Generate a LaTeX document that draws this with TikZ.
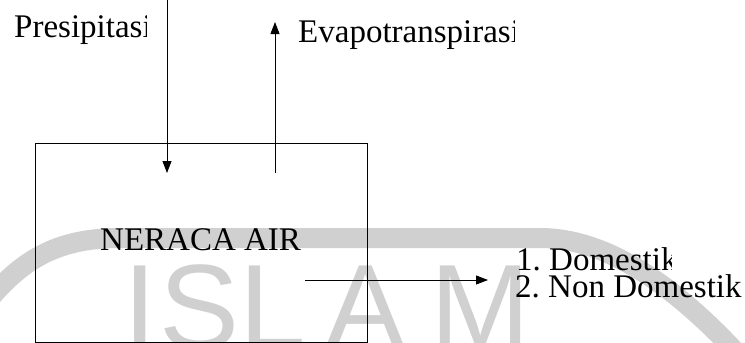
\documentclass[tikz,border=0pt]{standalone}
\usepackage{fontspec}
\setmainfont{Liberation Serif}
\newfontfamily\wmfont{Liberation Sans}
\usetikzlibrary{arrows.meta}
\definecolor{wm}{RGB}{208,208,208}
\frenchspacing
\begin{document}
\begin{tikzpicture}[x=1pt,y=-1pt,
  txt/.style={anchor=base west,inner sep=0pt,font=\fontsize{33}{33}\selectfont},
  wml/.style={anchor=base,inner sep=0pt,text=wm,font=\wmfont\fontsize{120}{120}\selectfont},
  arr/.style={line width=0.9pt,-{Triangle[length=12pt,width=9pt]}},
  boxst/.style={draw,line width=1.1pt,anchor=north west,inner sep=0pt,minimum width=332pt,minimum height=199pt}]
\useasboundingbox (0,0) rectangle (745,343);
% watermark
\begin{scope}
\clip (0,0) rectangle (745,343);
\draw[wm,line width=20pt] (-8,296) .. controls (25,258) and (60,238) .. (120,238) -- (540,238) .. controls (610,238) and (680,290) .. (745,362);
\node[wml] (wI) at (140,348) {I};
\node[wml] (wS) at (200,348) {S};
\node[wml] (wL) at (273,348) {L};
\node[wml] (wA) at (366,348) {A};
\node[wml] (wM) at (480,348) {M};
\end{scope}
% box
\node[boxst] (box) at (35,143) {};
\node[txt] (nera) at (100,250) {NERACA AIR};
% labels
\begin{scope}
\clip (0,0) rectangle (146.5,100);
\node[txt] (pre) at (14,37) {Presipitasi};
\end{scope}
\begin{scope}
\clip (280,0) rectangle (514,100);
\node[txt] (evap) at (298,42) {Evapotranspirasi};
\end{scope}
\begin{scope}
\clip (500,240) rectangle (671,280);
\node[txt] (dom1) at (516,270) {1. Domestik};
\end{scope}
\node[txt] (dom2) at (515,297) {2. Non Domestik};
% connectors
\coordinate (ptop) at (167,0);
\coordinate (pend) at (167,173);
\coordinate (estart) at (275,173);
\coordinate (etip) at (275,22);
\coordinate (ostart) at (305,280);
\coordinate (otip) at (488,280);
\draw[arr] (ptop) -- (pend);
\draw[arr] (estart) -- (etip);
\draw[arr] (ostart) -- (otip);
\end{tikzpicture}
\end{document}
